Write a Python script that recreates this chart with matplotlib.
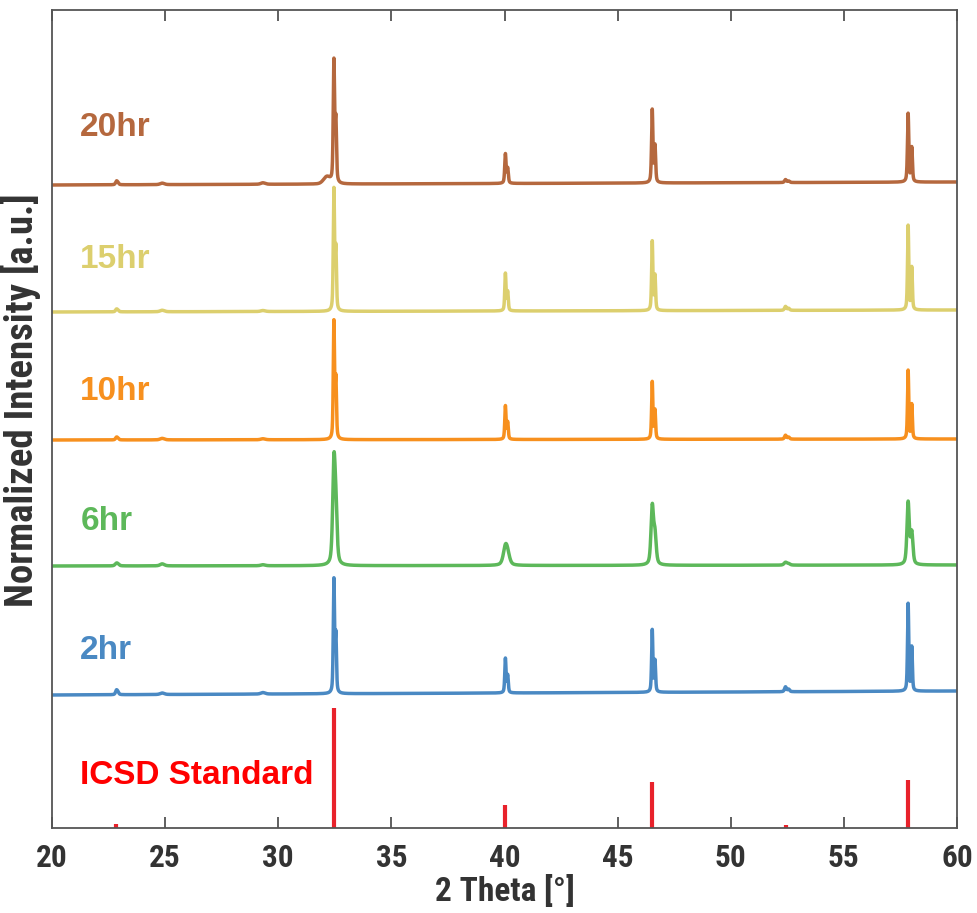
import numpy as np
import matplotlib
matplotlib.use("Agg")
import matplotlib.pyplot as plt

# ---------------- data ----------------
samples = ["20hr", "15hr", "10hr", "6hr", "2hr"]
colors = ["#B5683E", "#DCCF6E", "#F7901E", "#5DB85A", "#4A89C3"]
offsets = [643, 516, 388, 262, 133]          # baseline levels (a.u.)
baseline_slope = [3, 2, 1, 1, 4]             # rise of baseline from 20 to 60 deg

peak_pos = [22.85, 24.85, 29.3, 32.46, 40.04, 46.53, 52.42, 57.84]
ka2_shift = [0.06, 0.07, 0.08, 0.085, 0.10, 0.12, 0.14, 0.16]
heights = {
    "20hr": [4, 1.5, 1.5, 125, 30, 74, 3, 69],
    "15hr": [3, 1.5, 1.0, 124, 38, 70, 4, 85],
    "10hr": [3, 1.5, 1.0, 120, 34, 58, 4, 69],
    "6hr":  [3, 2.0, 1.0, 114, 22, 62, 3, 64],
    "2hr":  [5, 1.5, 1.5, 116, 35, 63, 5, 88],
}
widths = {
    "20hr": [0.10, 0.2, 0.2, 0.07, 0.07, 0.07, 0.10, 0.07],
    "15hr": [0.10, 0.2, 0.2, 0.065, 0.065, 0.065, 0.10, 0.065],
    "10hr": [0.10, 0.2, 0.2, 0.065, 0.065, 0.065, 0.10, 0.065],
    "6hr":  [0.15, 0.2, 0.2, 0.13, 0.22, 0.13, 0.15, 0.12],
    "2hr":  [0.10, 0.2, 0.2, 0.065, 0.065, 0.065, 0.10, 0.065],
}
ka2_ratio = 0.5
# small shoulder on the 20hr main peak
shoulder_pos = [32.15]
shoulder_h = [7]
shoulder_w = [0.35]

icsd_pos = [22.85, 32.46, 40.04, 46.53, 52.42, 57.84]
icsd_h = [4, 120, 23, 46, 3, 48]

xticks = [20, 25, 30, 35, 40, 45, 50, 55, 60]

# ---------------- figure ----------------
fig = plt.figure(figsize=(9.77, 9.13), dpi=100)
ax = fig.add_axes([52 / 977, 1 - 828 / 913, (957 - 52) / 977, (828 - 10) / 913])

x = np.linspace(20, 60, 8001)


def pv(x0, w, eta=0.5):
    g = np.exp(-4 * np.log(2) * ((x - x0) / w) ** 2)
    lo = 1 / (1 + ((x - x0) / (w / 2)) ** 2)
    return eta * lo + (1 - eta) * g


label_font = ["Liberation Sans", "DejaVu Sans"]
narrow_font = ["Roboto Condensed", "Archivo Narrow", "PT Sans Narrow", "DejaVu Sans"]

for name, col, off, sl in zip(samples, colors, offsets, baseline_slope):
    y = np.full_like(x, float(off)) + sl * (x - 20) / 40
    for p, h, d, w in zip(peak_pos, heights[name], ka2_shift, widths[name]):
        prof = pv(p, w) + ka2_ratio * pv(p + d, w)
        y += h * prof / prof.max()
    if name == "20hr":
        for p, h, sw in zip(shoulder_pos, shoulder_h, shoulder_w):
            y += h * pv(p, sw, eta=0.2)
    ax.plot(x, y, color=col, lw=2.5, solid_joinstyle="round")

ax.vlines(icsd_pos, 0, icsd_h, color="#E8222B", lw=3)

# labels
label_y = [700, 568, 436, 306, 178, 53]
for name, col, ly in zip(samples + ["ICSD Standard"], colors + ["#FF0000"], label_y):
    ax.text(21.25, ly, name, color=col, fontsize=24, fontweight="bold",
            family=label_font, va="center", ha="left")

ax.set_xlim(20, 60)
ax.set_ylim(0, 818)
ax.set_xticks(xticks)
ax.set_yticks([])
ax.tick_params(axis="x", direction="in", top=True, bottom=True, length=8,
               width=1.2, color="#444444", pad=11)
for lab in ax.get_xticklabels():
    lab.set_family(narrow_font)
    lab.set_fontstretch("condensed")
    lab.set_fontsize(22.5)
    lab.set_fontweight("bold")
    lab.set_color("#333333")
for s in ax.spines.values():
    s.set_color("#555555")
    s.set_linewidth(1.3)

ax.set_xlabel("2 Theta [°]", fontsize=24, fontweight="bold", family=narrow_font,
              fontstretch="condensed", color="#333333", labelpad=1)
ax.set_ylabel("Normalized Intensity [a.u.]", fontsize=28, fontweight="bold",
              family=narrow_font, fontstretch="condensed", color="#333333")
ax.yaxis.set_label_coords(-0.012, 0.523)

fig.savefig("out.png", dpi=100)
